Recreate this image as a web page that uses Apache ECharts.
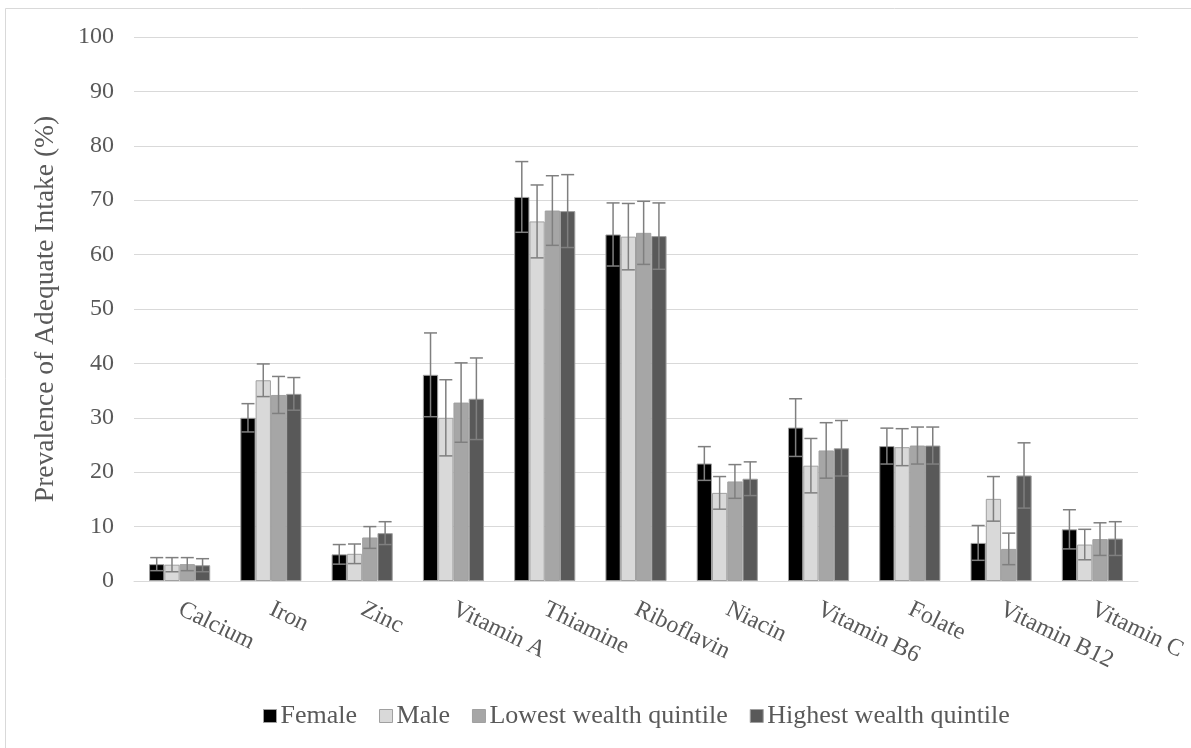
<!DOCTYPE html>
<html>
<head>
<meta charset="utf-8">
<script src="https://cdn.jsdelivr.net/npm/echarts@6/dist/echarts.min.js"></script>
<style>
html,body{margin:0;padding:0;background:#fff;}
#c{width:1191px;height:748px;}
</style>
</head>
<body>
<div id="c"></div>
<script>
const categories = ['Calcium','Iron','Zinc','Vitamin A','Thiamine','Riboflavin','Niacin','Vitamin B6','Folate','Vitamin B12','Vitamin C'];
const seriesNames = ['Female','Male','Lowest wealth quintile','Highest wealth quintile'];
const female     = [3.1, 30.0, 4.9, 37.9, 70.6, 63.7, 21.6, 28.2, 24.8, 7.0, 9.5];
const femaleErr  = [1.2, 2.6, 1.8, 7.7, 6.5, 5.8, 3.1, 5.3, 3.3, 3.2, 3.6];
const male       = [3.0, 36.9, 5.0, 30.0, 66.1, 63.3, 16.2, 21.2, 24.6, 15.1, 6.7];
const maleErr    = [1.3, 3.0, 1.8, 7.0, 6.7, 6.1, 3.0, 5.0, 3.4, 4.1, 2.8];
const lowest     = [3.1, 34.2, 8.0, 32.8, 68.1, 64.0, 18.3, 24.0, 24.9, 5.9, 7.7];
const lowestErr  = [1.2, 3.4, 2.0, 7.3, 6.4, 5.8, 3.1, 5.1, 3.4, 2.9, 3.0];
const highest    = [2.9, 34.4, 8.8, 33.5, 68.0, 63.4, 18.8, 24.4, 24.9, 19.4, 7.8];
const highestErr = [1.2, 3.0, 2.1, 7.5, 6.7, 6.1, 3.1, 5.1, 3.4, 6.0, 3.1];
const yTicks = [0, 10, 20, 30, 40, 50, 60, 70, 80, 90, 100];

const values = [female, male, lowest, highest];
const errors = [femaleErr, maleErr, lowestErr, highestErr];
const colors = ['#000000', '#d9d9d9', '#a6a6a6', '#595959'];
const catGap = 0.33;
const font = '"Liberation Serif", "Times New Roman", serif';
const textColor = '#595959';

const chart = echarts.init(document.getElementById('c'), null, {renderer: 'canvas'});

const barSeries = seriesNames.map((name, i) => ({
  name: name,
  type: 'bar',
  data: values[i],
  barGap: '0%',
  barCategoryGap: (catGap * 100) + '%',
  itemStyle: {color: colors[i], borderColor: '#a0a0a0', borderWidth: 1},
  z: 2
}));

const errSeries = seriesNames.map((name, i) => ({
  type: 'custom',
  name: name + ' err',
  data: values[i].map((v, j) => [j, v, errors[i][j]]),
  z: 5,
  silent: true,
  renderItem: function (params, api) {
    const idx = api.value(0);
    const v = api.value(1);
    const e = api.value(2);
    const catW = api.size([1, 0])[0];
    const bw = catW * (1 - catGap) / 4;
    const top = api.coord([idx, v + e]);
    const bot = api.coord([idx, v - e]);
    const x = top[0] + (-1.5 + i) * bw;
    const hw = 6.5;
    const style = {stroke: '#7f7f7f', lineWidth: 1.5, fill: null};
    return {
      type: 'group',
      children: [
        {type: 'line', shape: {x1: x, y1: top[1], x2: x, y2: bot[1]}, style: style},
        {type: 'line', shape: {x1: x - hw, y1: top[1], x2: x + hw, y2: top[1]}, style: style},
        {type: 'line', shape: {x1: x - hw, y1: bot[1], x2: x + hw, y2: bot[1]}, style: style}
      ]
    };
  }
}));

chart.setOption({
  animation: false,
  backgroundColor: '#ffffff',
  grid: {left: 134, right: 53, top: 37, bottom: 167, containLabel: false},
  legend: {
    data: seriesNames,
    top: 698,
    left: 258,
    icon: 'rect',
    itemWidth: 13,
    itemHeight: 13,
    itemGap: 22,
    textStyle: {fontFamily: font, fontSize: 26, color: textColor, padding: [0, 0, 0, -1]},
    itemStyle: {borderColor: '#a0a0a0', borderWidth: 1}
  },
  xAxis: {
    type: 'category',
    data: categories,
    axisLine: {show: true, lineStyle: {color: '#d9d9d9', width: 1}},
    axisTick: {show: false},
    axisLabel: {
      rotate: -26,
      margin: 27,
      fontFamily: font,
      fontSize: 24,
      color: textColor,
      interval: 0
    }
  },
  yAxis: {
    type: 'value',
    min: yTicks[0],
    max: yTicks[yTicks.length - 1],
    interval: 10,
    name: 'Prevalence of Adequate Intake (%)',
    nameLocation: 'middle',
    nameGap: 74,
    nameRotate: 90,
    nameTextStyle: {fontFamily: font, fontSize: 27.5, color: textColor},
    axisLine: {show: false},
    axisTick: {show: false},
    splitLine: {lineStyle: {color: '#d9d9d9', width: 1}},
    axisLabel: {fontFamily: font, fontSize: 24, color: textColor, margin: 20}
  },
  graphic: [
    {type: 'line', shape: {x1: 5.5, y1: 8.5, x2: 5.5, y2: 748}, style: {stroke: '#d9d9d9', lineWidth: 1}},
    {type: 'line', shape: {x1: 5.5, y1: 8.5, x2: 1191, y2: 8.5}, style: {stroke: '#d9d9d9', lineWidth: 1}}
  ],
  series: barSeries.concat(errSeries)
});
</script>
</body>
</html>
